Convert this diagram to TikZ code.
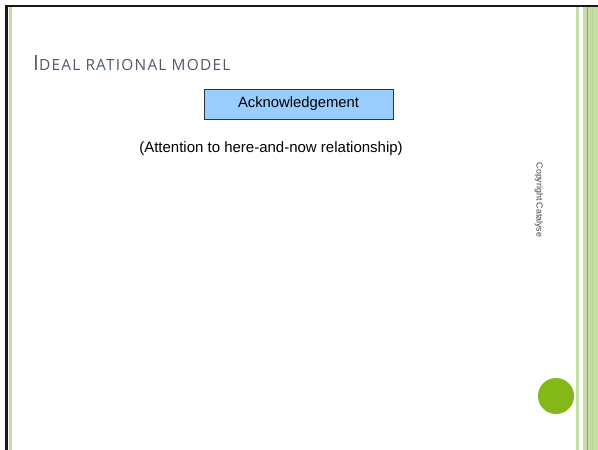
\documentclass[tikz,border=0pt]{standalone}
\usepackage{fontspec}
\setmainfont{Liberation Sans}
\newfontfamily\titlefont[LetterSpace=8]{Open Sans}
\definecolor{framegreen}{HTML}{C6DDA8}
\definecolor{darkstripe}{HTML}{8DB843}
\definecolor{dotgreen}{HTML}{84B818}
\definecolor{boxblue}{HTML}{99CCFF}
\definecolor{titlegray}{HTML}{4F5B6C}
\begin{document}
\begin{tikzpicture}[x=1pt,y=-1pt,
  labelbox/.style={draw=black!80,line width=0.8pt,fill=boxblue,minimum width=189pt,minimum height=30pt,inner sep=0pt,font=\fontsize{14.8}{16}\selectfont},
  plaintext/.style={inner sep=0pt,font=\fontsize{15}{16}\selectfont}]
\useasboundingbox (0,0) rectangle (598,450);
\fill[white] (0,0) rectangle (598,450);
% slide frame
\fill[black!90] (5,4.5) rectangle (598,7);
\fill[black!90] (5,4.5) rectangle (7.5,450);
\fill[framegreen] (9,7) rectangle (12,450);
% right-hand stripes
\fill[framegreen] (576,7) rectangle (579,450);
\fill[framegreen] (583,7) rectangle (598,450);
\fill[darkstripe] (586.5,7) rectangle (588,450);
\fill[framegreen!70!darkstripe] (591.5,7) rectangle (592.5,450);
% title
\node[anchor=base west,inner sep=0pt,text=titlegray] (title) at (33,70.5)
  {\titlefont\fontsize{21}{24}\selectfont I\fontsize{15.4}{18}\selectfont DEAL RATIONAL MODEL};
% content
\node[labelbox] (ack) at (298.5,104) {Acknowledgement};
\node[plaintext] (att) at (271,149) {(Attention to here-and-now relationship)};
\node[rotate=-90,inner sep=0pt,text=black!75,font=\fontsize{8.8}{10}\selectfont] (copy) at (539,200) {Copyright Catalyse};
% decorative dot
\fill[dotgreen] (556,396) circle (18);
\end{tikzpicture}
\end{document}
